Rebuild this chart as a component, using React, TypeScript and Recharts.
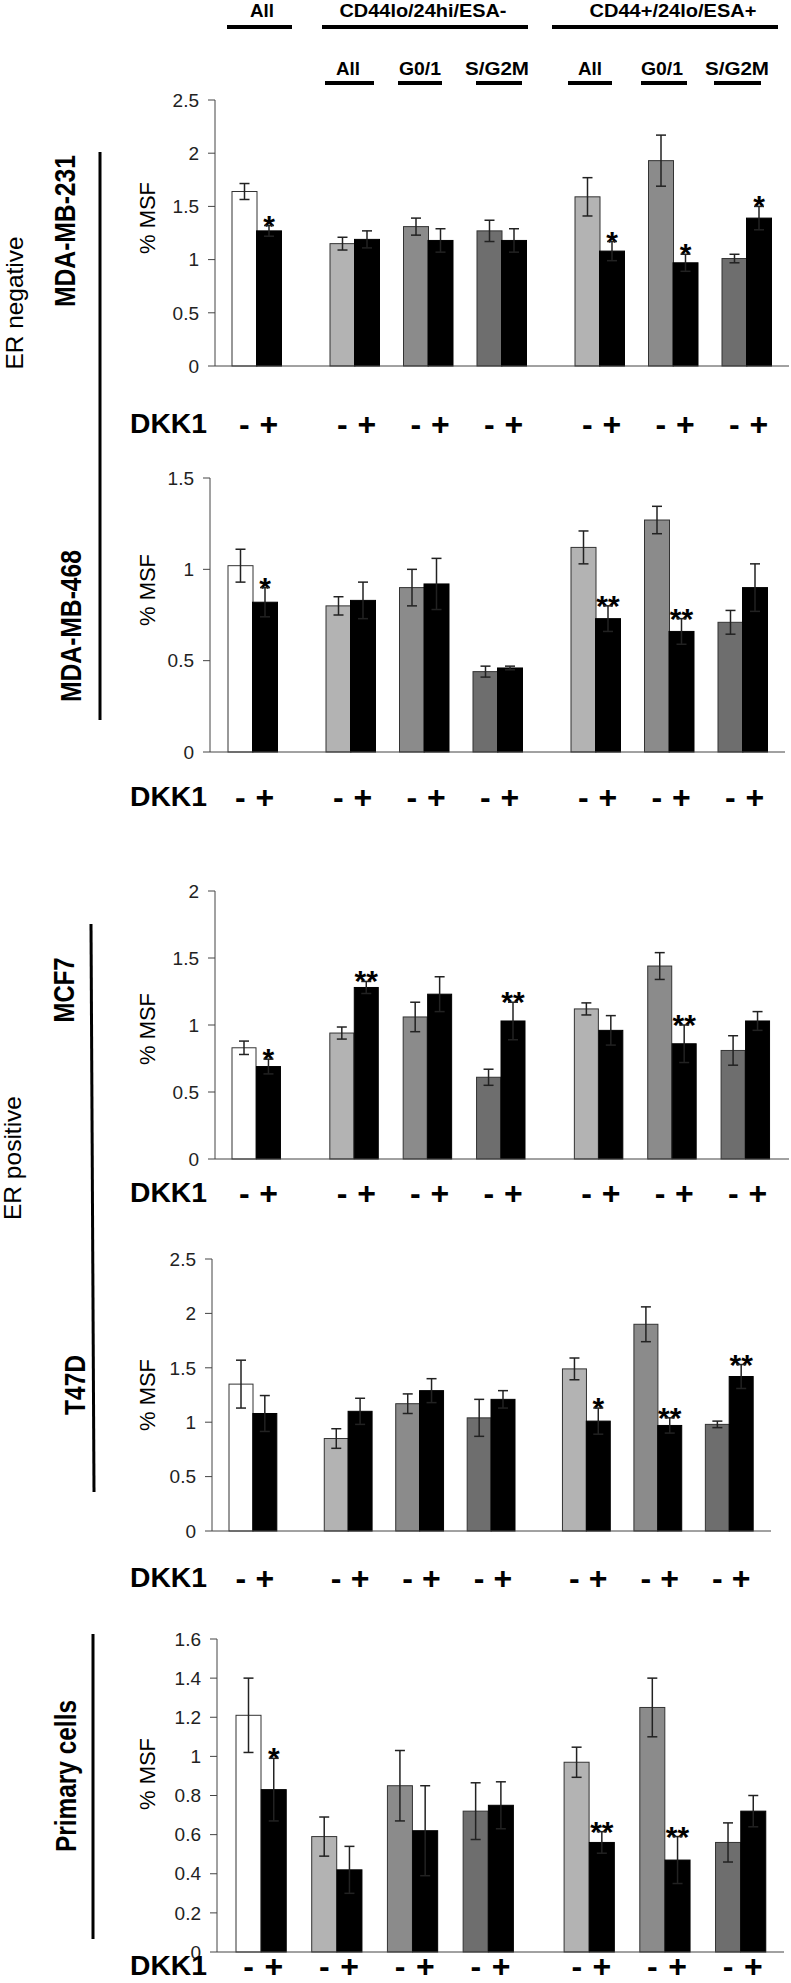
import { BarChart, Bar, XAxis, YAxis, ErrorBar } from 'recharts';

const FONT = "'Liberation Sans', Arial, sans-serif";

// group order inside every panel
const groups = ['All', 'CD44lo All', 'CD44lo G0/1', 'CD44lo S/G2M', 'CD44+ All', 'CD44+ G0/1', 'CD44+ S/G2M'];
const groupFills = ['#ffffff', '#b3b3b3', '#8b8b8b', '#6e6e6e', '#b3b3b3', '#8b8b8b', '#6e6e6e'];

// MDA-MB-231
const mb231Minus = [1.64, 1.15, 1.31, 1.27, 1.59, 1.93, 1.01];
const mb231MinusErr = [0.075, 0.06, 0.08, 0.1, 0.18, 0.24, 0.04];
const mb231Plus = [1.27, 1.19, 1.18, 1.18, 1.08, 0.97, 1.39];
const mb231PlusErr = [0.05, 0.08, 0.11, 0.11, 0.09, 0.08, 0.11];
const mb231Stars = ['*', '', '', '', '*', '*', '*'];
const mb231Ticks = [0, 0.5, 1, 1.5, 2, 2.5];

// MDA-MB-468
const mb468Minus = [1.02, 0.8, 0.9, 0.44, 1.12, 1.27, 0.71];
const mb468MinusErr = [0.09, 0.05, 0.1, 0.03, 0.09, 0.075, 0.065];
const mb468Plus = [0.82, 0.83, 0.92, 0.46, 0.73, 0.66, 0.9];
const mb468PlusErr = [0.08, 0.1, 0.14, 0.01, 0.07, 0.07, 0.13];
const mb468Stars = ['*', '', '', '', '**', '**', ''];
const mb468Ticks = [0, 0.5, 1, 1.5];

// MCF7
const mcf7Minus = [0.83, 0.94, 1.06, 0.61, 1.12, 1.44, 0.81];
const mcf7MinusErr = [0.05, 0.045, 0.11, 0.06, 0.045, 0.1, 0.11];
const mcf7Plus = [0.69, 1.28, 1.23, 1.03, 0.96, 0.86, 1.03];
const mcf7PlusErr = [0.055, 0.045, 0.13, 0.14, 0.11, 0.14, 0.07];
const mcf7Stars = ['*', '**', '', '**', '', '**', ''];
const mcf7Ticks = [0, 0.5, 1, 1.5, 2];

// T47D
const t47dMinus = [1.35, 0.85, 1.17, 1.04, 1.49, 1.9, 0.98];
const t47dMinusErr = [0.22, 0.09, 0.09, 0.17, 0.1, 0.16, 0.03];
const t47dPlus = [1.08, 1.1, 1.29, 1.21, 1.01, 0.97, 1.42];
const t47dPlusErr = [0.165, 0.12, 0.11, 0.08, 0.12, 0.07, 0.11];
const t47dStars = ['', '', '', '', '*', '**', '**'];
const t47dTicks = [0, 0.5, 1, 1.5, 2, 2.5];

// Primary cells
const primMinus = [1.21, 0.59, 0.85, 0.72, 0.97, 1.25, 0.56];
const primMinusErr = [0.19, 0.1, 0.18, 0.145, 0.077, 0.15, 0.1];
const primPlus = [0.83, 0.42, 0.62, 0.75, 0.56, 0.47, 0.72];
const primPlusErr = [0.16, 0.12, 0.23, 0.12, 0.055, 0.12, 0.08];
const primStars = ['*', '', '', '', '**', '**', ''];
const primTicks = [0, 0.2, 0.4, 0.6, 0.8, 1, 1.2, 1.4, 1.6];

// empty slots after each group
const gapsCell = [2, 1, 1, 2, 1, 1, 0];
const gapsPrimary = [1, 1, 1, 2, 1, 1, 0];

const buildRows = (minus: number[], minusErr: number[], plus: number[], plusErr: number[], stars: string[], gaps: number[]) => {
  const rows: any[] = [];
  groups.forEach((g, i) => {
    rows.push({ key: `m${i}`, group: g, v: minus[i], err: minusErr[i], fill: groupFills[i], sign: '-', star: '' });
    rows.push({ key: `p${i}`, group: g, v: plus[i], err: plusErr[i], fill: '#000000', sign: '+', star: stars[i] });
    for (let k = 0; k < gaps[i]; k++) rows.push({ key: `gap${i}_${k}`, v: null, err: null, sign: '' });
  });
  return rows;
};

const BarShape = (p: any) => {
  const d = p.payload;
  if (!d || d.v == null || !p.height) return <g />;
  const unit = p.height / d.v;
  const top = p.y - (d.err || 0) * unit;
  return (
    <g>
      <rect x={p.x} y={p.y} width={p.width} height={p.height} fill={d.fill} stroke={d.sign === '-' ? '#333' : '#000'} strokeWidth={1} />
      {d.star ? (
        <text x={p.x + p.width / 2} y={top + 10} textAnchor="middle" fontSize={30} fontWeight="bold" fontFamily={FONT} fill="#000">
          {d.star}
        </text>
      ) : null}
    </g>
  );
};

interface PanelProps {
  rows: any[];
  ticks: number[];
  plotTop: number;
  plotBottom: number;
  axisX: number;
  axisEnd: number;
  padL: number;
  padR: number;
  signRow: number;
}

const Panel = ({ rows, ticks, plotTop, plotBottom, axisX, axisEnd, padL, padR, signRow }: PanelProps) => {
  const dy = signRow - plotBottom;
  const xh = dy + 20;
  const SignTick = (p: any) => {
    const key = String(p.payload?.value ?? '');
    const s = key.startsWith('m') ? '-' : key.startsWith('p') ? '+' : '';
    if (!s) return <g />;
    return (
      <text x={p.x} y={p.y + dy} textAnchor="middle" dominantBaseline="central" fontSize={32} fontWeight="bold" fontFamily={FONT} fill="#000">
        {s}
      </text>
    );
  };
  return (
    <div style={{ position: 'absolute', left: 0, top: plotTop - 20 }}>
      <BarChart
        width={791}
        height={plotBottom - plotTop + 20 + xh}
        data={rows}
        margin={{ top: 20, right: 791 - axisEnd, bottom: 0, left: axisX - 60 }}
        barCategoryGap={0}
        barGap={0}
      >
        <XAxis
          dataKey="key"
          interval={0}
          axisLine={{ stroke: '#444' }}
          tickLine={false}
          tickSize={0}
          tickMargin={0}
          padding={{ left: padL, right: padR }}
          height={xh}
          tick={SignTick}
        />
        <YAxis
          width={60}
          domain={[0, ticks[ticks.length - 1]]}
          ticks={ticks}
          interval={0}
          axisLine={{ stroke: '#444' }}
          tickLine={{ stroke: '#444' }}
          tickSize={7}
          tickMargin={9}
          tick={{ fontSize: 19, fill: '#222', fontFamily: FONT }}
        />
        <Bar dataKey="v" isAnimationActive={false} shape={BarShape}>
          <ErrorBar dataKey="err" direction="y" width={5} stroke="#222" strokeWidth={1.5} />
        </Bar>
      </BarChart>
    </div>
  );
};

const RotText = ({ cx, cy, text, size, w, bold }: { cx: number; cy: number; text: string; size: number; w: number; bold?: boolean }) => (
  <text
    transform={`translate(${cx},${cy}) rotate(-90)`}
    textAnchor="middle"
    dominantBaseline="central"
    fontSize={size}
    fontWeight={bold ? 'bold' : 'normal'}
    fontFamily={FONT}
    textLength={w}
    lengthAdjust="spacingAndGlyphs"
    fill="#000"
  >
    {text}
  </text>
);

const HText = ({ cx, cy, text, w }: { cx: number; cy: number; text: string; w: number }) => (
  <text x={cx} y={cy} textAnchor="middle" dominantBaseline="central" fontSize={18} fontWeight="bold" fontFamily={FONT} textLength={w} lengthAdjust="spacingAndGlyphs" fill="#000">
    {text}
  </text>
);

const headerTop = [
  { t: 'All', cx: 262, w: 24, x1: 227, x2: 292 },
  { t: 'CD44lo/24hi/ESA-', cx: 423, w: 167, x1: 322, x2: 528 },
  { t: 'CD44+/24lo/ESA+', cx: 673, w: 167, x1: 552, x2: 778 },
];
const headerSub = [
  { t: 'All', cx: 348, w: 24, x1: 325, x2: 374 },
  { t: 'G0/1', cx: 420, w: 42, x1: 398, x2: 442 },
  { t: 'S/G2M', cx: 497, w: 64, x1: 476, x2: 522 },
  { t: 'All', cx: 590, w: 24, x1: 568, x2: 612 },
  { t: 'G0/1', cx: 662, w: 42, x1: 641, x2: 687 },
  { t: 'S/G2M', cx: 737, w: 64, x1: 714, x2: 761 },
];
const dkkRows = [424, 797, 1193, 1578, 1966];
const msfRows = [218, 590, 1029, 1395, 1774];

export default function App() {
  return (
    <div style={{ position: 'absolute', left: 0, top: 0, width: 791, height: 1983, background: '#fff', overflow: 'hidden' }}>
      <Panel rows={buildRows(mb231Minus, mb231MinusErr, mb231Plus, mb231PlusErr, mb231Stars, gapsCell)} ticks={mb231Ticks}
        plotTop={100} plotBottom={366} axisX={215} axisEnd={789} padL={17} padR={18} signRow={424} />
      <Panel rows={buildRows(mb468Minus, mb468MinusErr, mb468Plus, mb468PlusErr, mb468Stars, gapsCell)} ticks={mb468Ticks}
        plotTop={478} plotBottom={752} axisX={210} axisEnd={785} padL={18} padR={18} signRow={797} />
      <Panel rows={buildRows(mcf7Minus, mcf7MinusErr, mcf7Plus, mcf7PlusErr, mcf7Stars, gapsCell)} ticks={mcf7Ticks}
        plotTop={891} plotBottom={1159} axisX={215} axisEnd={789} padL={17} padR={19} signRow={1193} />
      <Panel rows={buildRows(t47dMinus, t47dMinusErr, t47dPlus, t47dPlusErr, t47dStars, gapsCell)} ticks={t47dTicks}
        plotTop={1259} plotBottom={1531} axisX={212} axisEnd={771} padL={17} padR={18} signRow={1578} />
      <Panel rows={buildRows(primMinus, primMinusErr, primPlus, primPlusErr, primStars, gapsPrimary)} ticks={primTicks}
        plotTop={1639} plotBottom={1952} axisX={217} axisEnd={784} padL={19} padR={18} signRow={1966} />

      <svg width={791} height={1983} style={{ position: 'absolute', left: 0, top: 0, pointerEvents: 'none' }}>
        {headerTop.map((h) => (
          <g key={h.t + h.cx}>
            <HText cx={h.cx} cy={11} text={h.t} w={h.w} />
            <line x1={h.x1} x2={h.x2} y1={27} y2={27} stroke="#000" strokeWidth={4} />
          </g>
        ))}
        {headerSub.map((h) => (
          <g key={h.t + h.cx}>
            <HText cx={h.cx} cy={69} text={h.t} w={h.w} />
            <line x1={h.x1} x2={h.x2} y1={83} y2={83} stroke="#000" strokeWidth={4} />
          </g>
        ))}

        {dkkRows.map((y) => (
          <text key={y} x={130} y={y} dominantBaseline="central" fontSize={27} fontWeight="bold" fontFamily={FONT} textLength={77} lengthAdjust="spacingAndGlyphs" fill="#000">
            DKK1
          </text>
        ))}
        {msfRows.map((y) => (
          <RotText key={y} cx={147} cy={y} text="% MSF" size={22} w={72} />
        ))}

        <RotText cx={14} cy={303} text="ER negative" size={24} w={133} />
        <RotText cx={12} cy={1158} text="ER positive" size={24} w={124} />
        <RotText cx={64} cy={231} text="MDA-MB-231" size={30} w={152} bold />
        <RotText cx={70} cy={626} text="MDA-MB-468" size={30} w={152} bold />
        <RotText cx={63} cy={990} text="MCF7" size={30} w={65} bold />
        <RotText cx={74} cy={1385} text="T47D" size={30} w={60} bold />
        <RotText cx={65} cy={1776} text="Primary cells" size={30} w={152} bold />

        <line x1={100} x2={100} y1={152} y2={720} stroke="#000" strokeWidth={3} />
        <line x1={91} x2={94} y1={924} y2={1492} stroke="#000" strokeWidth={3} />
        <line x1={93} x2={93} y1={1634} y2={1939} stroke="#000" strokeWidth={3} />
      </svg>
    </div>
  );
}
